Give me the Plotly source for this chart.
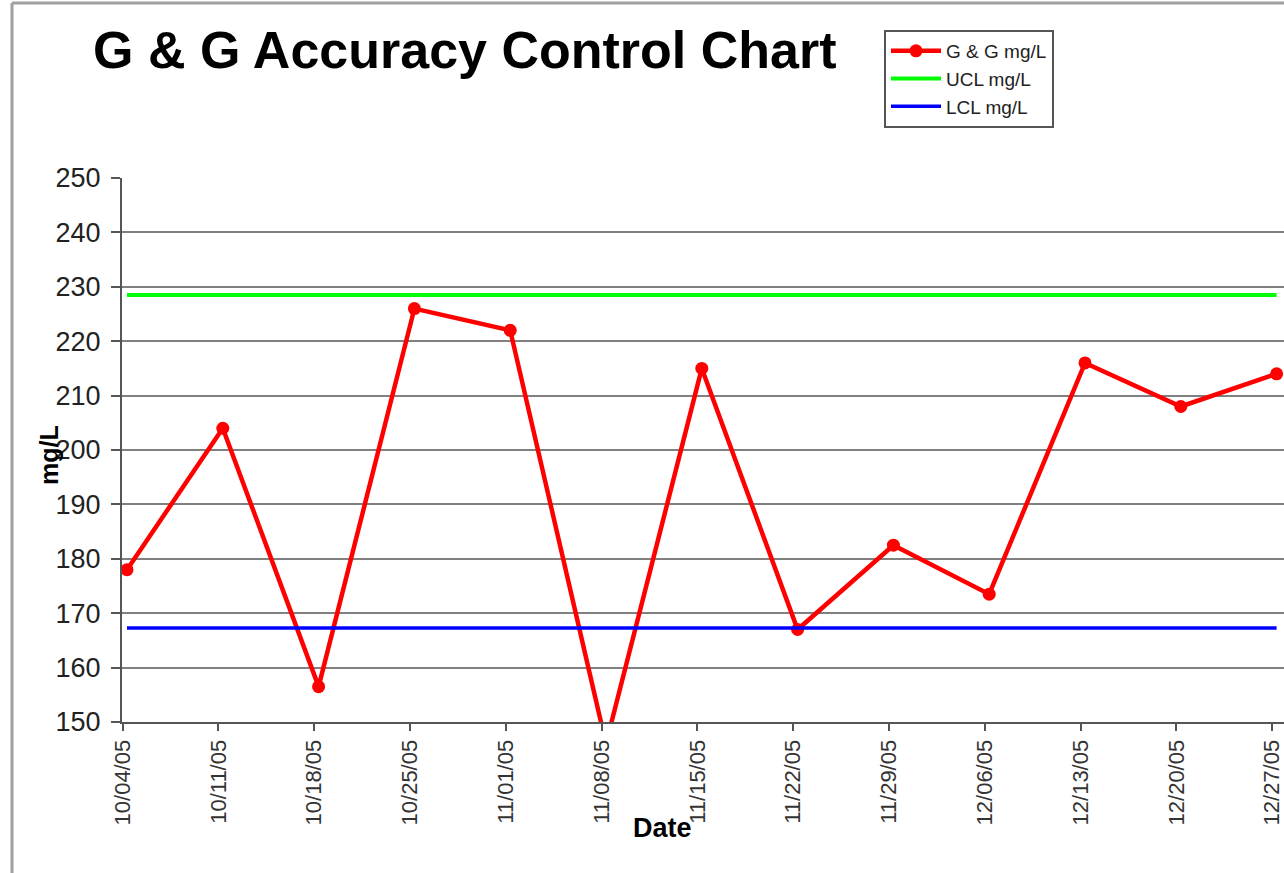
import plotly.graph_objects as go

dates = ["10/04/05", "10/11/05", "10/18/05", "10/25/05", "11/01/05", "11/08/05",
         "11/15/05", "11/22/05", "11/29/05", "12/06/05", "12/13/05", "12/20/05", "12/27/05"]
gg_values = [178, 204, 156.5, 226, 222, 146, 215, 167, 182.5, 173.5, 216, 208, 214]
ucl_values = [228.5] * len(dates)
lcl_values = [167.3] * len(dates)
y_ticks = [150, 160, 170, 180, 190, 200, 210, 220, 230, 240, 250]
grid_ticks = [160, 170, 180, 190, 200, 210, 220, 230, 240]

FONT = "Liberation Sans, Arial, sans-serif"
W, H = 1284, 873
# plot area in screen coordinates
PL, PR, PT, PB = 122, 1284, 178, 722
L, R, T, B = PL, W - PR, PT, H - PB
pw, ph = PR - PL, PB - PT

def px(x):
    return (x - PL) / pw

def py(y):
    return (PB - y) / ph

xs = list(range(len(dates)))
x0_screen, step = 127, 95.8
tick_off = 0.045

fig = go.Figure()
# invisible trace to drive the grid-only axis
fig.add_trace(go.Scatter(x=[xs[0]], y=[200], yaxis="y2", mode="markers",
                         marker=dict(opacity=0), showlegend=False, hoverinfo="skip"))
fig.add_trace(go.Scatter(x=xs, y=gg_values, name="G &amp; G mg/L", mode="lines+markers",
                         line=dict(color="#FF0000", width=4.5),
                         marker=dict(color="#FF0000", size=13)))
fig.add_trace(go.Scatter(x=xs, y=ucl_values, name="UCL mg/L", mode="lines",
                         line=dict(color="#00FF00", width=4)))
fig.add_trace(go.Scatter(x=xs, y=lcl_values, name="LCL mg/L", mode="lines",
                         line=dict(color="#0000FF", width=3.5)))

fig.update_layout(
    width=W, height=H,
    margin=dict(l=L, r=R, t=T, b=B, pad=0),
    paper_bgcolor="white", plot_bgcolor="white",
    font=dict(family=FONT, color="#222"),
    showlegend=True,
    legend=dict(x=px(884), y=py(30), xanchor="left", yanchor="top",
                bordercolor="#555", borderwidth=2, bgcolor="white",
                font=dict(size=19, family=FONT, color="#222"),
                tracegroupgap=0, itemwidth=50),
    xaxis=dict(range=[(PL - x0_screen) / step, (PR - x0_screen) / step], tickmode="array",
               tickvals=[i - tick_off for i in xs], ticktext=dates,
               tickangle=-90, tickfont=dict(size=22, color="#333"),
               ticklabeloverflow="allow",
               showgrid=False, zeroline=False, showline=True, linecolor="#555", linewidth=2,
               ticks="outside", ticklen=7, tickcolor="#555", tickwidth=2),
    yaxis=dict(range=[150, 250], tickmode="array", tickvals=y_ticks,
               tickfont=dict(size=27, color="#222"),
               showgrid=False, zeroline=False, showline=True, linecolor="#555", linewidth=2,
               ticks="outside", ticklen=9, tickcolor="#555", tickwidth=2,
               ticklabelstandoff=5),
    yaxis2=dict(range=[150, 250], overlaying="y", tickmode="array", tickvals=grid_ticks,
                showgrid=True, gridcolor="#808080", gridwidth=2, showticklabels=False,
                zeroline=False, showline=False, ticks=""),
    annotations=[
        dict(text="<b>G &amp; G Accuracy Control Chart</b>", xref="paper", yref="paper",
             x=px(91), y=py(50), xanchor="left", yanchor="middle", showarrow=False,
             font=dict(size=52, family=FONT, color="black")),
        dict(text="<b>mg/L</b>", xref="paper", yref="paper", x=px(49), y=py(455),
             xanchor="center", yanchor="middle", textangle=-90, showarrow=False,
             font=dict(size=25, family=FONT, color="black")),
        dict(text="<b>Date</b>", xref="paper", yref="paper", x=px(662), y=py(828),
             xanchor="center", yanchor="middle", showarrow=False,
             font=dict(size=27, family=FONT, color="black")),
    ],
    shapes=[
        dict(type="line", xref="paper", yref="paper", x0=px(12), x1=px(12), y0=py(3), y1=py(880),
             line=dict(color="#A0A0A0", width=3)),
        dict(type="line", xref="paper", yref="paper", x0=px(12), x1=px(1290), y0=py(3), y1=py(3),
             line=dict(color="#A0A0A0", width=3)),
    ],
)
fig.write_html("out.html", config={"displayModeBar": False},
               post_script="document.body.style.margin='0';document.body.style.overflow='hidden';")
